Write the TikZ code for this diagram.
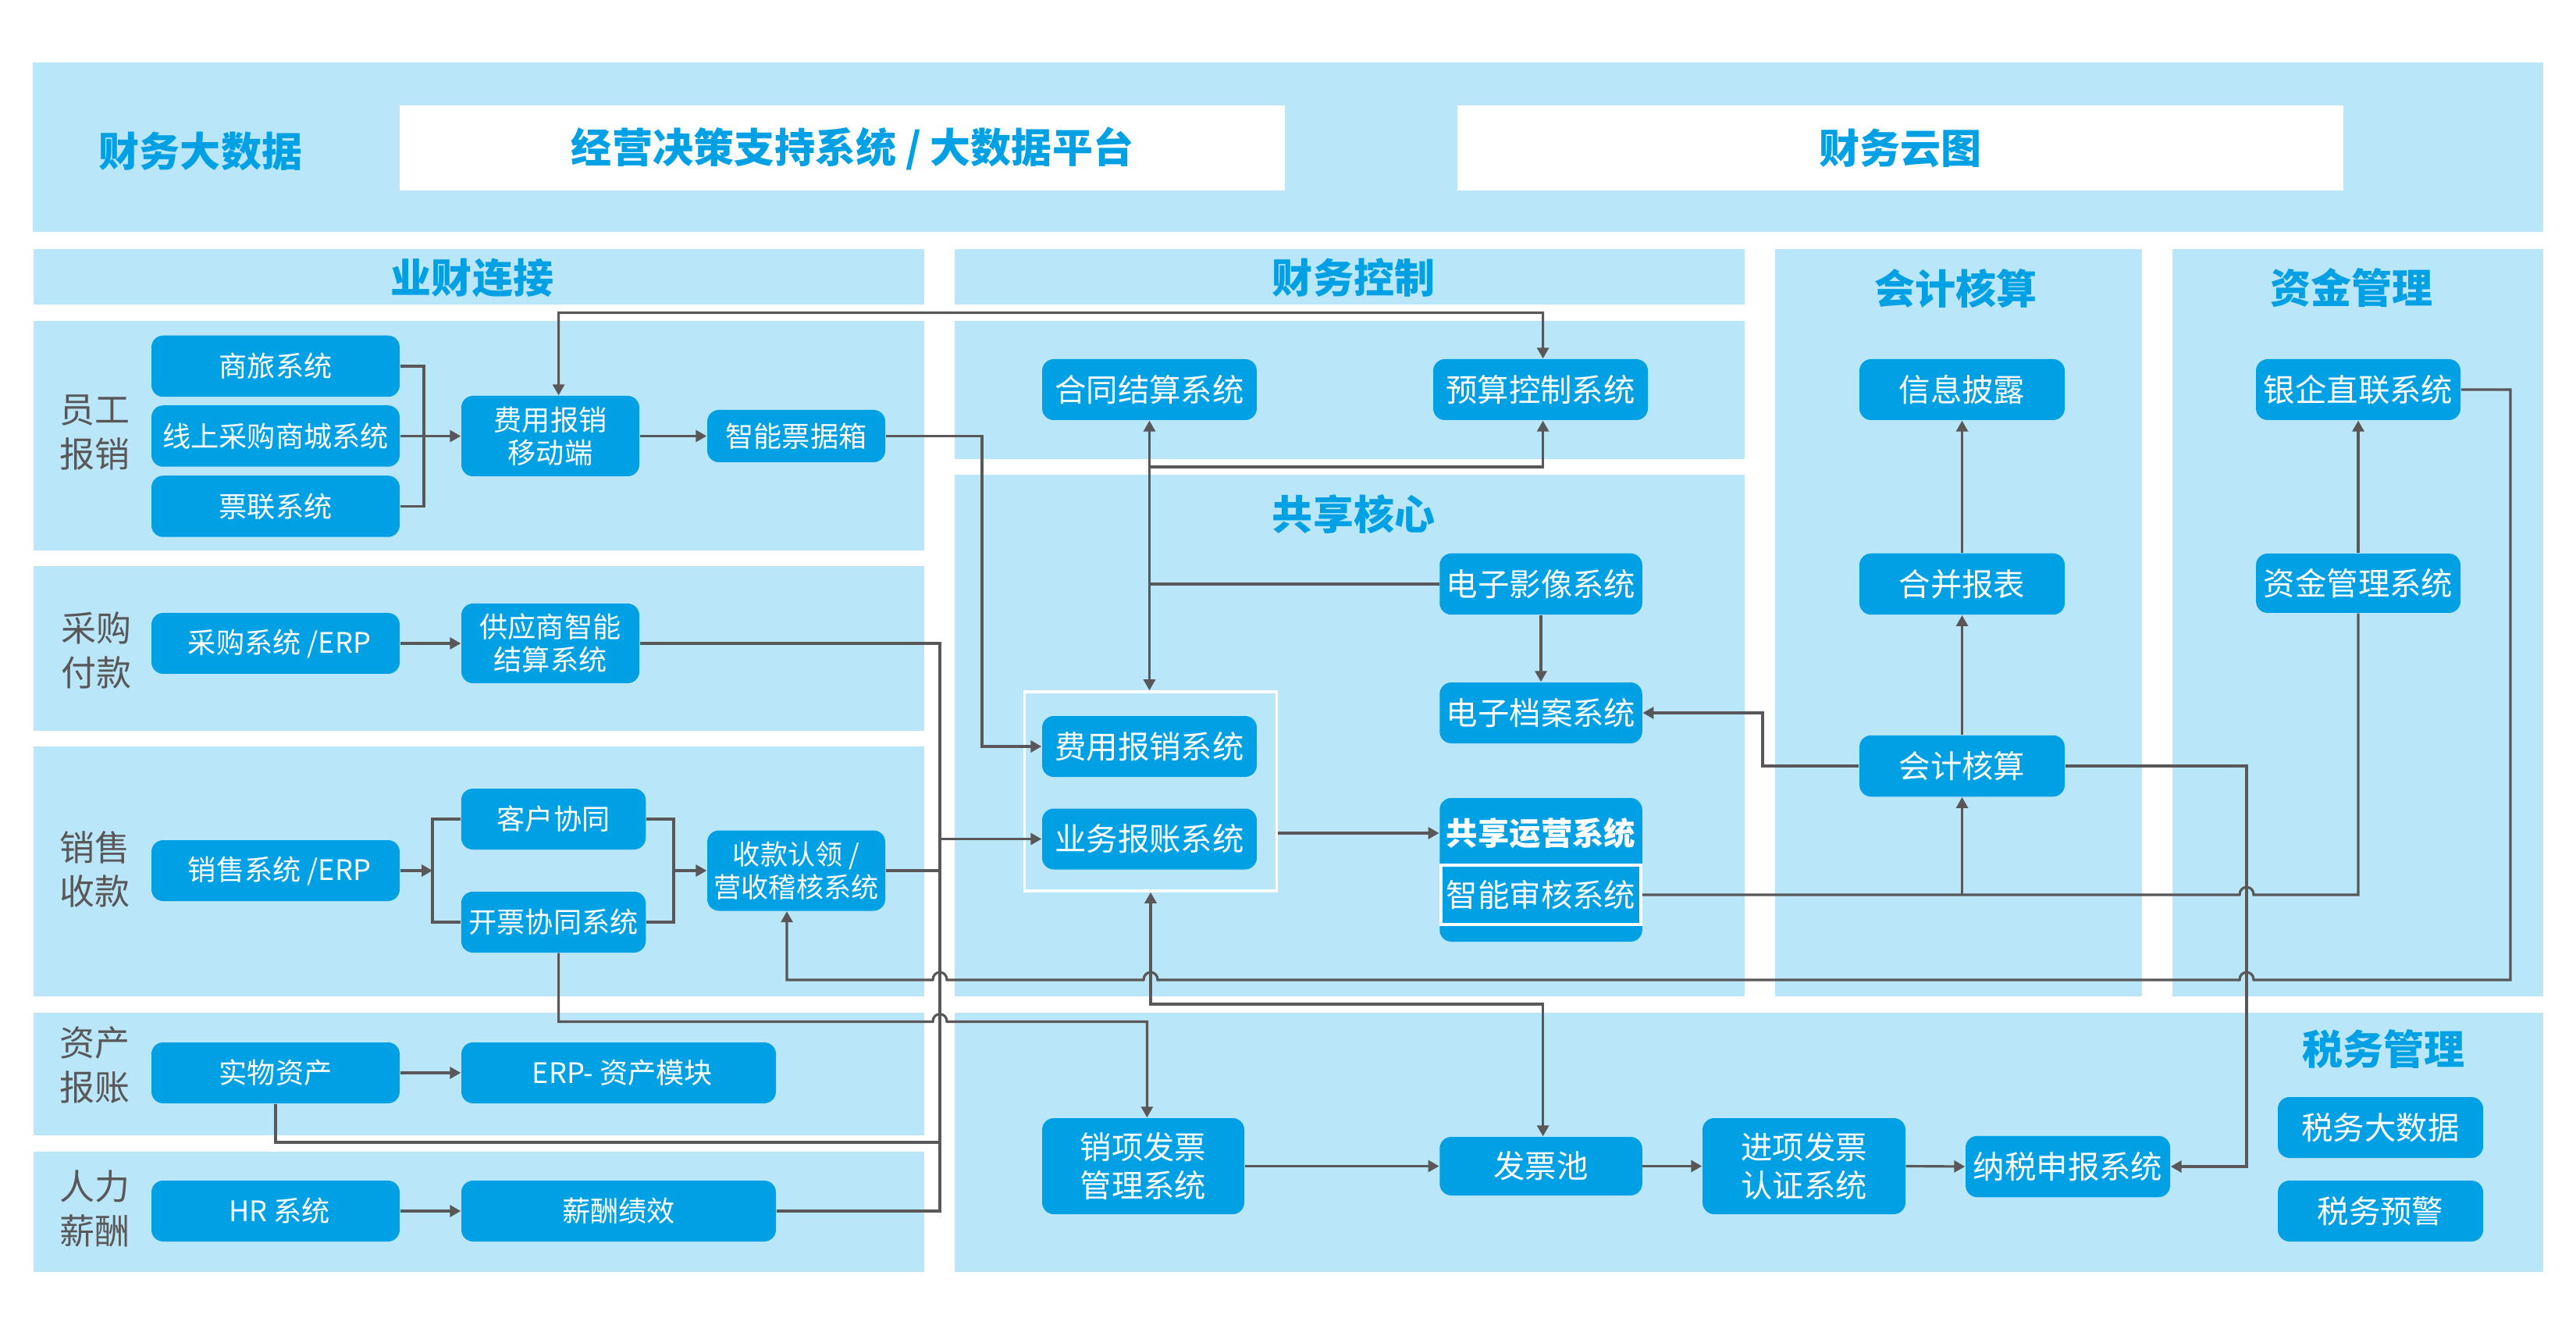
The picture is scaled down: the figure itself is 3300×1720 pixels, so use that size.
\documentclass[tikz,border=0pt]{standalone}
\usepackage{fontspec}
\setmainfont{Noto Sans CJK SC}
\usetikzlibrary{arrows.meta}

\definecolor{panelblue}{HTML}{BAE6F9}
\definecolor{boxblue}{HTML}{00A0E4}
\definecolor{linegrey}{HTML}{595757}

\newcommand{\fsize}[2]{\fontsize{#1}{#2}\selectfont}
% line jump over a trunk, going left or going right
\newcommand{\humpL}[2]{-- (#1+9,#2) .. controls (#1+9,#2-13) and (#1-9,#2-13) .. (#1-9,#2)}
\newcommand{\humpR}[2]{-- (#1-9,#2) .. controls (#1-9,#2-13) and (#1+9,#2-13) .. (#1+9,#2)}

\tikzset{
	>={Triangle[length=1.4mm,width=1.5mm]},
	sized/.style 2 args={minimum width=#1mm,minimum height=#2mm},
	sysbox/.style={fill=boxblue,rounded corners=1.5mm,text=white,inner sep=0pt,align=center,font=\fsize{10.3}{12}},
	bigbox/.style={sysbox,font=\fsize{11.5}{14}},
	sidelabel/.style={text=linegrey,inner sep=0pt,align=center,font=\fsize{12.8}{16}},
	paneltitle/.style={text=boxblue,inner sep=0pt,font=\fsize{14.8}{16}\bfseries},
	conn/.style={draw=linegrey,line width=0.9pt},
}

\begin{document}
\begin{tikzpicture}[x=0.1mm,y=-0.1mm]
	\useasboundingbox (0,0) rectangle (3300,1720);
	% Panels
	\begin{scope}
		\fill[panelblue] (42,80) rectangle (3258,297);
		\fill[panelblue] (43,319) rectangle (1184,390);
		\fill[panelblue] (43,411) rectangle (1184,705);
		\fill[panelblue] (43,725) rectangle (1184,936);
		\fill[panelblue] (43,956) rectangle (1184,1276);
		\fill[panelblue] (43,1297) rectangle (1184,1454);
		\fill[panelblue] (43,1475) rectangle (1184,1629);
		\fill[panelblue] (1223,319) rectangle (2235,390);
		\fill[panelblue] (1223,411) rectangle (2235,588);
		\fill[panelblue] (1223,608) rectangle (2235,1276);
		\fill[panelblue] (2274,319) rectangle (2744,1276);
		\fill[panelblue] (2783,319) rectangle (3258,1276);
		\fill[panelblue] (1223,1297) rectangle (3258,1629);
		\fill[white] (512,135) rectangle (1646,244);
		\fill[white] (1867,135) rectangle (3002,244);
	\end{scope}
	% Titles
	\node[paneltitle] (tdashuju) at (257,194) {财务大数据};
	\node[paneltitle] (tjingying) at (1092,190) {经营决策支持系统 / 大数据平台};
	\node[paneltitle] (tyuntu) at (2434,190) {财务云图};
	\node[paneltitle] (tyecai) at (605,356) {业财连接};
	\node[paneltitle] (tkongzhi) at (1734,356) {财务控制};
	\node[paneltitle] (tgongxiang) at (1734,658) {共享核心};
	\node[paneltitle] (thesuan) at (2505,370) {会计核算};
	\node[paneltitle] (tzijin) at (3012,368) {资金管理};
	\node[paneltitle] (tshuiwu) at (3053,1344) {税务管理};
	% Row labels
	\node[sidelabel] (lyuangong) at (121,554) {员工\\报销};
	\node[sidelabel] (lcaigou) at (123,833) {采购\\付款};
	\node[sidelabel] (lxiaoshou) at (121,1113) {销售\\收款};
	\node[sidelabel] (lzichan) at (121,1364) {资产\\报账};
	\node[sidelabel] (lrenli) at (121,1548) {人力\\薪酬};
	% Left column systems
	\node[sysbox,sized={31.8}{7.85}] (shanglv) at (353,469) {商旅系统};
	\node[sysbox,sized={31.8}{7.85}] (xianshang) at (353,558.5) {线上采购商城系统};
	\node[sysbox,sized={31.8}{7.85}] (piaolian) at (353,648.5) {票联系统};
	\node[sysbox,sized={22.8}{10.3}] (feiyongyd) at (705,558.5) {费用报销\\移动端};
	\node[sysbox,sized={22.8}{6.7}] (piaoju) at (1020,558.5) {智能票据箱};
	\node[sysbox,sized={31.8}{7.8}] (caigou) at (353,824) {\hspace*{1mm}采购系统 /ERP};
	\node[sysbox,sized={22.8}{10.2}] (gongying) at (705,824) {供应商智能\\结算系统};
	\node[sysbox,sized={31.8}{7.8}] (xiaoshou) at (353,1115) {\hspace*{1mm}销售系统 /ERP};
	\node[sysbox,sized={23.65}{7.8}] (kehu) at (709,1049) {客户协同};
	\node[sysbox,sized={23.65}{7.8}] (kaipiao) at (709,1181) {开票协同系统};
	\node[sysbox,sized={22.8}{10.3},font=\fsize{10}{12}] (shoukuan) at (1020,1115) {收款认领 /\\营收稽核系统};
	\node[sysbox,sized={31.8}{7.8}] (shiwu) at (353,1374) {实物资产};
	\node[sysbox,sized={40.3}{7.8}] (erp) at (792.5,1374) {\hspace*{1mm}ERP- 资产模块};
	\node[sysbox,sized={31.8}{7.8}] (hr) at (353,1551) {\hspace*{1mm}HR 系统};
	\node[sysbox,sized={40.3}{7.8}] (xinchou) at (792.5,1551) {薪酬绩效};
	% Middle column systems
	\node[bigbox,sized={27.5}{7.8}] (hetong) at (1472.5,499) {合同结算系统};
	\node[bigbox,sized={27.5}{7.8}] (yusuan) at (1973.5,499) {预算控制系统};
	\node[bigbox,sized={25.95}{7.85}] (yingxiang) at (1974,748) {电子影像系统};
	\node[bigbox,sized={25.95}{7.8}] (dangan) at (1974,913) {电子档案系统};
	\node[draw=white,line width=1pt,inner sep=0pt,sized={32.3}{25.5}] (baozhang) at (1474,1013.5) {};
	\node[bigbox,sized={27.5}{7.8}] (feibao) at (1472.5,956) {费用报销系统};
	\node[bigbox,sized={27.5}{7.8}] (yewu) at (1472.5,1074.5) {业务报账系统};
	\node[sysbox,sized={25.95}{18.4}] (yunying) at (1974,1114) {};
	\node[bigbox,fill=none,sized={25.95}{8},font=\fsize{11.5}{14}\bfseries] (yunyingt) at (1974,1067) {共享运营系统};
	\node[bigbox,rounded corners=0pt,draw=white,line width=1pt,sized={25.6}{7.6}] (shenhe) at (1974,1146) {智能审核系统};
	\node[bigbox,sized={25.9}{12.3}] (xiaoxiang) at (1464.5,1493.5) {销项发票\\管理系统};
	\node[bigbox,sized={25.95}{7.5}] (fapiao) at (1974,1493.5) {发票池};
	\node[bigbox,sized={26}{12.3}] (jinxiang) at (2311,1493.5) {进项发票\\认证系统};
	\node[bigbox,sized={26.2}{7.85}] (nashui) at (2649,1494) {纳税申报系统};
	\node[bigbox,sized={26.3}{7.8}] (shuidata) at (3049.5,1444) {税务大数据};
	\node[bigbox,sized={26.3}{7.8}] (yujing) at (3049.5,1551) {税务预警};
	% Right columns systems
	\node[bigbox,sized={26.3}{7.8}] (xinxi) at (2513.5,499) {信息披露};
	\node[bigbox,sized={26.3}{7.85}] (hebing) at (2513.5,748) {合并报表};
	\node[bigbox,sized={26.3}{7.85}] (kuaiji) at (2513.5,981) {会计核算};
	\node[bigbox,sized={26.2}{7.8}] (yinqi) at (3021,499) {银企直联系统};
	\node[bigbox,sized={26.2}{7.6}] (zijin) at (3021,747) {资金管理系统};
	% Turning points of the connectors
	\coordinate (hubyg) at (543,558.5);
	\coordinate (hubxs) at (554,1115);
	\coordinate (hubsk) at (863,1115);
	\coordinate (railtop) at (1976.6,400.5);
	\coordinate (turnpj) at (1258,956);
	\coordinate (trunktop) at (1204,824);
	\coordinate (trunkbot) at (1204,1551);
	\coordinate (trunksw) at (1204,1463);
	\coordinate (turnkp) at (715.6,1308.5);
	\coordinate (splitys) at (1472.5,598);
	\coordinate (splityx) at (1472.5,748);
	\coordinate (turnkj) at (2258,981);
	\coordinate (turnfp) at (1474,1286);
	\coordinate (turnbt) at (3216,1255);
	\coordinate (trunkns) at (2878,1494);
	% Connectors, left side
	\draw[conn] (shanglv.east) -| (hubyg);
	\draw[conn] (piaolian.east) -| (hubyg);
	\draw[conn,->] (xianshang.east) -- (feiyongyd.west);
	\draw[conn,->] (feiyongyd.east) -- (piaoju.west);
	\draw[conn,<->] ([xshift=1.06mm]feiyongyd.north) |- (railtop) -- ([xshift=0.31mm]yusuan.north);
	\draw[conn,->] (piaoju.east) -| (turnpj) -- (feibao.west);
	\draw[conn,->] (caigou.east) -- (gongying.west);
	\draw[conn] (gongying.east) -| (trunkbot) -- (xinchou.east);
	\draw[conn,->] (xiaoshou.east) -- (hubxs);
	\draw[conn] (kehu.west) -| (hubxs);
	\draw[conn] (kaipiao.west) -| (hubxs);
	\draw[conn] (kehu.east) -| (hubsk);
	\draw[conn] (kaipiao.east) -| (hubsk);
	\draw[conn,->] (hubsk) -- (shoukuan.west);
	\draw[conn] (shoukuan.east) -- (trunktop |- shoukuan);
	\draw[conn,->] (trunktop |- yewu) -- (yewu.west);
	\draw[conn,->] (shiwu.east) -- (erp.west);
	\draw[conn] (shiwu.south) |- (trunksw);
	\draw[conn,->] (hr.east) -- (xinchou.west);
	\draw[conn,->] ([xshift=0.66mm]kaipiao.south) -- (turnkp) \humpR{1204}{1308.5} -| ([xshift=0.49mm]xiaoxiang.north);
	% Connectors, middle
	\draw[conn,<->] (hetong.south) -- (hetong.south |- baozhang.north);
	\draw[conn,->] (splitys) -| ([xshift=0.31mm]yusuan.south);
	\draw[conn] (yingxiang.west) -- (splityx);
	\draw[conn,->] (yingxiang.south) -- (dangan.north);
	\draw[conn,->] (kuaiji.west) -| (turnkj) |- (dangan.east);
	\draw[conn,->] (baozhang.east |- yunyingt) -- (yunyingt.west);
	\draw[conn,<->] (baozhang.south) |- (turnfp) -| ([xshift=0.26mm]fapiao.north);
	\draw[conn,->] (xiaoxiang.east) -- (fapiao.west);
	\draw[conn,->] (fapiao.east) -- (jinxiang.west);
	\draw[conn,->] (jinxiang.east) -- (nashui.west);
	% Connectors, right side
	\draw[conn,->] (hebing.north) -- (xinxi.south);
	\draw[conn,->] (kuaiji.north) -- (hebing.south);
	\draw[conn,->] (kuaiji.south |- shenhe) -- (kuaiji.south);
	\draw[conn] (shenhe.east) \humpR{2878}{1146} -| (zijin.south);
	\draw[conn,->] (zijin.north) -- (yinqi.south);
	\draw[conn,->] (kuaiji.east) -| (trunkns) -- (nashui.east);
	\draw[conn,->] (yinqi.east) -| (turnbt) \humpL{2878}{1255} \humpL{1474}{1255} \humpL{1204}{1255} -| ([xshift=-1.2mm]shoukuan.south);
\end{tikzpicture}
\end{document}
